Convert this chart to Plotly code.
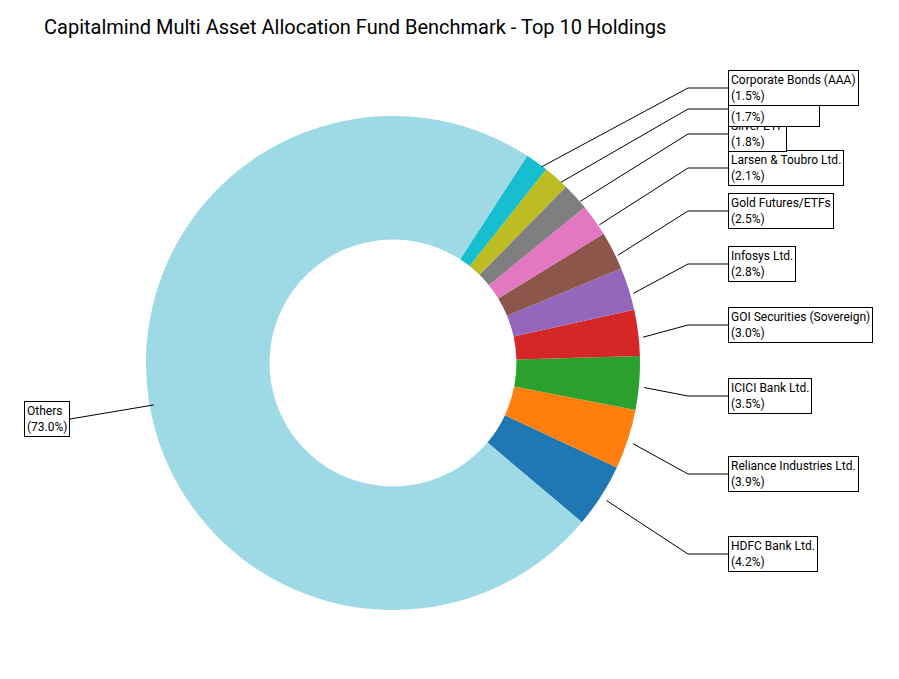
import numpy as np
import plotly.graph_objects as go

W, H = 899, 679

labels = ["HDFC Bank Ltd.", "Reliance Industries Ltd.", "ICICI Bank Ltd.",
          "GOI Securities (Sovereign)", "Infosys Ltd.", "Gold Futures/ETFs",
          "Larsen & Toubro Ltd.", "Silver ETF", "Bharti Airtel Ltd.",
          "Corporate Bonds (AAA)", "Others"]
values = [4.2, 3.9, 3.5, 3.0, 2.8, 2.5, 2.1, 1.8, 1.7, 1.5, 73.0]
colors = ["#1f77b4", "#ff7f0e", "#2ca02c", "#d62728", "#9467bd", "#8c564b",
          "#e377c2", "#7f7f7f", "#bcbd22", "#17becf", "#9edae5"]
# label box vertical positions (px from top)
box_y = [546, 466, 388, 317, 256, 203, 160, 126, 101, 80, 411]

cx, cy, R = 390, 360, 247
start = -40.0

fig = go.Figure(go.Pie(
    labels=labels, values=values, marker=dict(colors=colors, line=dict(color="white", width=0)),
    hole=0.5, sort=False, direction="counterclockwise", rotation=115,
    textinfo="none", showlegend=False,
    domain=dict(x=[(cx - 5 - R) / W, (cx - 5 + R) / W], y=[1 - (cy - 5 + R) / H, 1 - (cy - 5 - R) / H]),
))

px = lambda x: x / W
py = lambda y: 1 - y / H

total = sum(values)
acc = 0.0
for lab, v, by in zip(labels, values, box_y):
    mid = np.radians(start + (acc + v / 2) / total * 360)
    acc += v
    sx, sy = cx + R * np.cos(mid), cy - R * np.sin(mid)
    if np.cos(mid) >= 0:
        bx, ex = 720, 680
        anchor = "left"
    else:
        bx, ex = 62, 62
        anchor = "right"
    fig.add_shape(type="line", xref="paper", yref="paper",
                  x0=px(sx), y0=py(sy), x1=px(ex), y1=py(by), line=dict(color="black", width=1))
    fig.add_shape(type="line", xref="paper", yref="paper",
                  x0=px(ex), y0=py(by), x1=px(bx), y1=py(by), line=dict(color="black", width=1))
    fig.add_annotation(xref="paper", yref="paper", x=px(bx), y=py(by),
                       xanchor=anchor, yanchor="middle", showarrow=False,
                       text=f"{lab}<br>({v:.1f}%)", align="left",
                       font=dict(size=12, color="black", family="Roboto"),
                       bgcolor="white", bordercolor="black", borderwidth=1, borderpad=2)

fig.update_layout(
    width=W, height=H, margin=dict(l=0, r=0, t=0, b=0),
    paper_bgcolor="white", plot_bgcolor="white",
    title=dict(text="Capitalmind Multi Asset Allocation Fund Benchmark - Top 10 Holdings",
               x=36 / W, xanchor="left", y=1 - 19 / H, yanchor="middle",
               font=dict(size=20, color="black", family="Roboto")),
)

fig.write_html("out.html")
